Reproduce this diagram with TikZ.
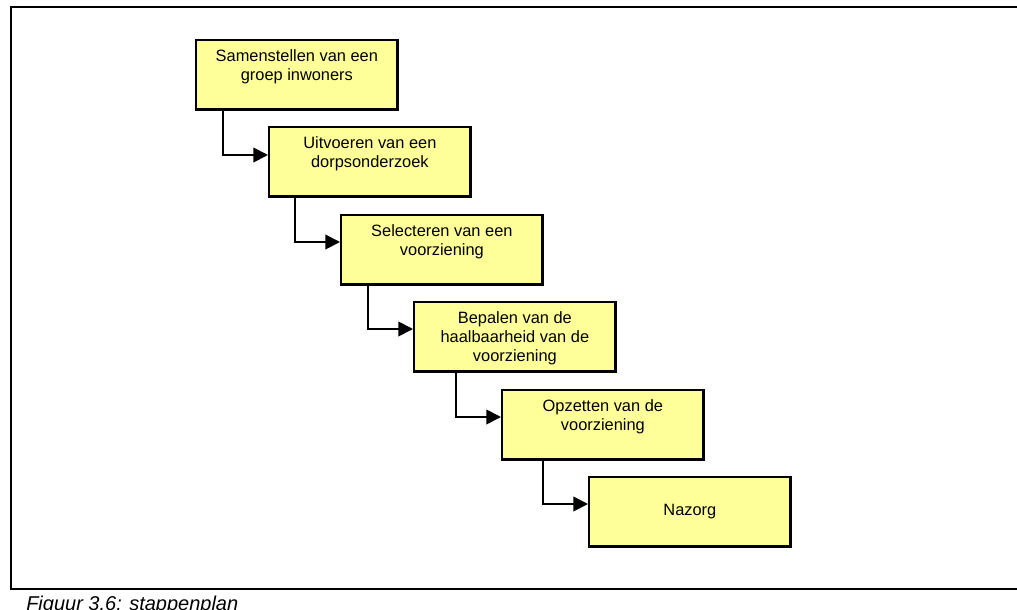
\documentclass[tikz,border=0pt]{standalone}
\usepackage{fontspec}
\setmainfont{Liberation Sans}
\usetikzlibrary{arrows.meta}

\definecolor{stepyellow}{RGB}{255,255,153}

\tikzset{
  stepbox/.style={draw, line width=1.8pt, fill=stepyellow, anchor=north west,
    minimum width=151pt, minimum height=52pt, inner sep=0pt,
    font=\fontsize{12.3}{14.25}\selectfont},
  steptext/.style={anchor=north, yshift=-7.5pt, inner sep=0pt, align=center,
    font=\fontsize{12.3}{14.25}\selectfont},
  flow/.style={-{Triangle[length=11pt,width=11pt]}, line width=1.4pt},
  frame/.style={line width=1.5pt},
  caption/.style={anchor=base west, inner sep=0pt,
    font=\fontsize{15}{18}\selectfont\itshape},
}

\begin{document}
\begin{tikzpicture}[x=0.75pt, y=-0.75pt]

            \useasboundingbox (0,0) rectangle (1017,610);

            % frame and caption
            \draw[frame] (1020,7) -- (11,7) -- (11,589) -- (1020,589);
            \node[caption] (cap) at (26,610) {Figuur 3.6: stappenplan};

            % steps
            \node[stepbox, label={[steptext]north:{Samenstellen van een\\groep inwoners}}] (s1) at (195,39) {};
            \node[stepbox, label={[steptext]north:{Uitvoeren van een\\dorpsonderzoek}}] (s2) at (268,126) {};
            \node[stepbox, label={[steptext]north:{Selecteren van een\\voorziening}}] (s3) at (340,214) {};
            \node[stepbox, label={[steptext]north:{Bepalen van de\\haalbaarheid van de\\voorziening}}] (s4) at (413,301) {};
            \node[stepbox, label={[steptext]north:{Opzetten van de\\voorziening}}] (s5) at (501,389) {};
            \node[stepbox] (s6) at (588,476) {Nazorg};

            % Connections: step to next step
            \draw[flow] ([xshift=21pt]s1.south west) |- ([yshift=-21.75pt]s2.north west);
            \draw[flow] ([xshift=20.25pt]s2.south west) |- ([yshift=-21pt]s3.north west);
            \draw[flow] ([xshift=21pt]s3.south west) |- ([yshift=-21pt]s4.north west);
            \draw[flow] ([xshift=32.25pt]s4.south west) |- ([yshift=-21pt]s5.north west);
            \draw[flow] ([xshift=31.5pt]s5.south west) |- ([yshift=-21pt]s6.north west);

        \end{tikzpicture}
\end{document}
